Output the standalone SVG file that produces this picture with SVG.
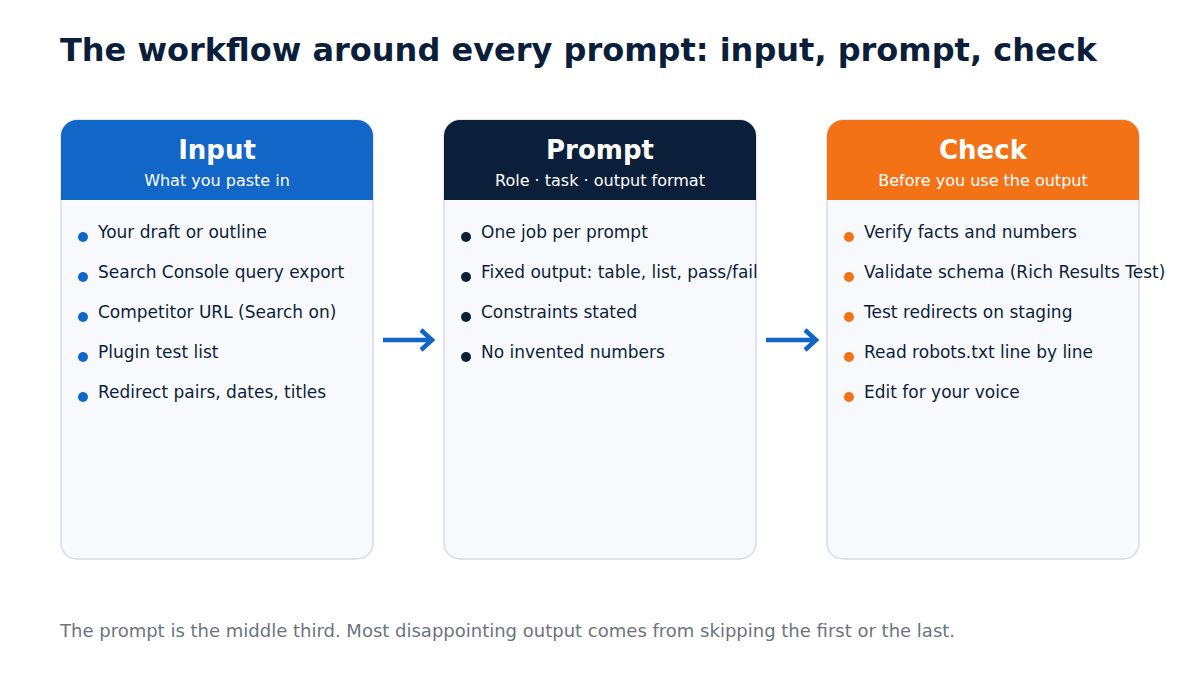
<svg xmlns="http://www.w3.org/2000/svg" width="1200" height="675" viewBox="0 0 1200 675">
<style>
text{font-family:"DejaVu Sans",sans-serif}
.card{fill:#f7f9fc;stroke:#d7dde5;stroke-width:1.5}
.h{font-size:26px;font-weight:bold;fill:#fff;text-anchor:middle}
.s{font-size:16px;fill:#fff;text-anchor:middle}
.i{font-size:17px;fill:#0c1f3a}
.ar{stroke:#1166c4;stroke-width:4.5;fill:none}
</style>
<rect width="1200" height="675" fill="#fff"/>
<text x="60" y="61" font-size="32" font-weight="bold" fill="#0c1f3a">The workflow around every prompt: input, prompt, check</text>
<g id="input">
<rect class="card" x="61" y="120" width="312" height="439" rx="16"/>
<path d="M61 200V136a16 16 0 0 1 16-16h280a16 16 0 0 1 16 16v64z" fill="#1166c8"/>
<text class="h" x="217" y="159">Input</text><text class="s" x="217" y="186">What you paste in</text>
<g fill="#1166c8"><circle cx="83" cy="237" r="5"/><circle cx="83" cy="277" r="5"/><circle cx="83" cy="317" r="5"/><circle cx="83" cy="357" r="5"/><circle cx="83" cy="397" r="5"/></g>
<text class="i" x="98" y="238">Your draft or outline</text>
<text class="i" x="98" y="278">Search Console query export</text>
<text class="i" x="98" y="318">Competitor URL (Search on)</text>
<text class="i" x="98" y="358">Plugin test list</text>
<text class="i" x="98" y="398">Redirect pairs, dates, titles</text>
</g>
<g id="prompt">
<rect class="card" x="444" y="120" width="312" height="439" rx="16"/>
<path d="M444 200V136a16 16 0 0 1 16-16h280a16 16 0 0 1 16 16v64z" fill="#0c1f3a"/>
<text class="h" x="600" y="159">Prompt</text><text class="s" x="600" y="186">Role · task · output format</text>
<g fill="#0c1f3a"><circle cx="466" cy="237" r="5"/><circle cx="466" cy="277" r="5"/><circle cx="466" cy="317" r="5"/><circle cx="466" cy="357" r="5"/></g>
<text class="i" x="481" y="238">One job per prompt</text>
<text class="i" x="481" y="278">Fixed output: table, list, pass/fail</text>
<text class="i" x="481" y="318">Constraints stated</text>
<text class="i" x="481" y="358">No invented numbers</text>
</g>
<g id="check">
<rect class="card" x="827" y="120" width="312" height="439" rx="16"/>
<path d="M827 200V136a16 16 0 0 1 16-16h280a16 16 0 0 1 16 16v64z" fill="#f47216"/>
<text class="h" x="983" y="159">Check</text><text class="s" x="983" y="186">Before you use the output</text>
<g fill="#f47216"><circle cx="849" cy="237" r="5"/><circle cx="849" cy="277" r="5"/><circle cx="849" cy="317" r="5"/><circle cx="849" cy="357" r="5"/><circle cx="849" cy="397" r="5"/></g>
<text class="i" x="864" y="238">Verify facts and numbers</text>
<text class="i" x="864" y="278">Validate schema (Rich Results Test)</text>
<text class="i" x="864" y="318">Test redirects on staging</text>
<text class="i" x="864" y="358">Read robots.txt line by line</text>
<text class="i" x="864" y="398">Edit for your voice</text>
</g>
<g id="connectors">
<path class="ar" d="M383 340H431M421 330l11 10l-11 10"/>
<path class="ar" d="M766 340H815M805 330l11 10l-11 10"/>
</g>
<text x="60" y="637" font-size="18" fill="#6b7480">The prompt is the middle third. Most disappointing output comes from skipping the first or the last.</text>
</svg>
